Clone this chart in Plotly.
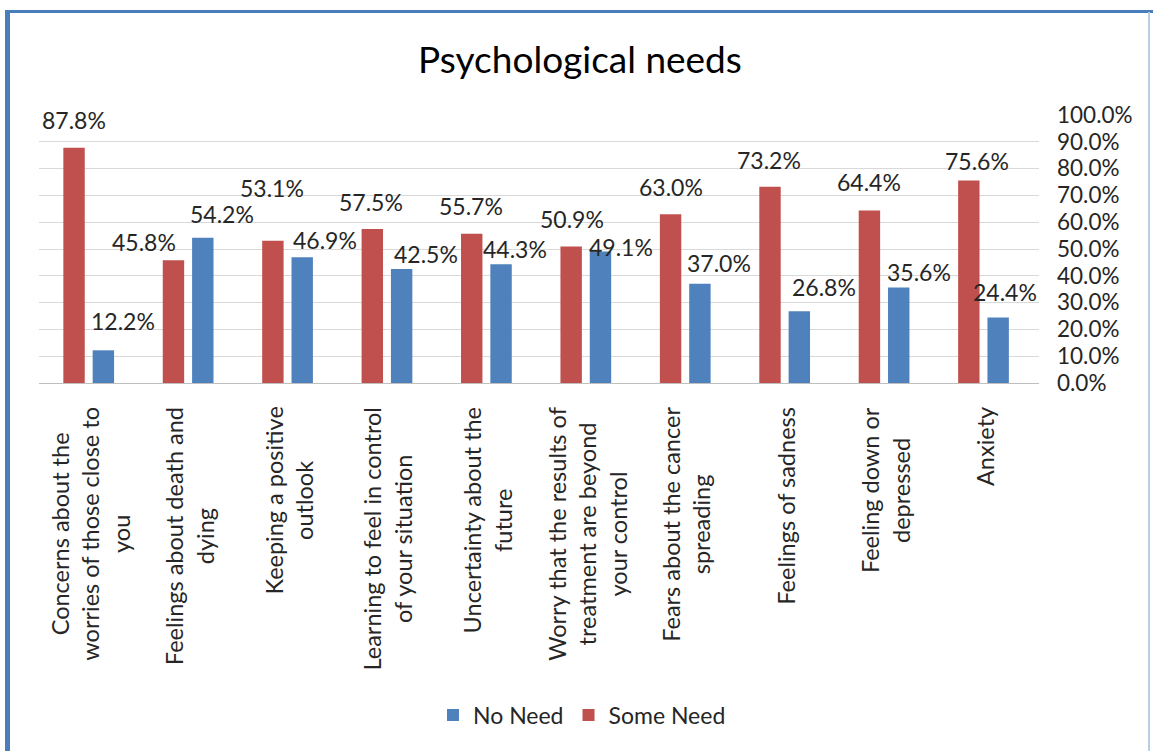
import plotly.graph_objects as go

# ---- data -------------------------------------------------------------
categories = [
    "Concerns about the<br>worries of those close to<br>you",
    "Feelings about death and<br>dying",
    "Keeping a positive<br>outlook",
    "Learning to feel in control<br>of your situation",
    "Uncertainty about the<br>future",
    "Worry that the results of<br>treatment are beyond<br>your control",
    "Fears about the cancer<br>spreading",
    "Feelings of sadness",
    "Feeling down or<br>depressed",
    "Anxiety",
]
some_need = [87.8, 45.8, 53.1, 57.5, 55.7, 50.9, 63.0, 73.2, 64.4, 75.6]
no_need = [12.2, 54.2, 46.9, 42.5, 44.3, 49.1, 37.0, 26.8, 35.6, 24.4]
y_ticks = [0, 10, 20, 30, 40, 50, 60, 70, 80, 90, 100]

# ---- styling ----------------------------------------------------------
RED = "#C0504D"
BLUE = "#4F81BD"
TEXT = "#262626"
FONT = "Lato"

W, H = 1153, 751
ML, MR, MT, MB = 39, 114, 115, 368
PW, PH = W - ML - MR, H - MT - MB

# data-label placement (pixels) relative to the top of each bar
red_bar_off, blue_bar_off = -14.5, 15
red_lbl_dx = [0, -30, -1.5, -1, -1, 0.5, 0.5, -1.5, -1, 8]
red_lbl_dy = [28, 18, 53, 27, 28, 28, 27, 27, 28, 19]
blue_lbl_dx = [19, 19, 22.5, 24, 13.5, 20.5, 18.5, 24, 19.5, 6.5]
blue_lbl_dy = [29, 24, 17, 15, 15, 4, 21, 24, 16, 26]


def px_x(p):
    return (p - ML) / PW


def px_y(p):
    return (H - MB - p) / PH


fig = go.Figure()
fig.add_trace(go.Bar(name="Some Need", x=categories, y=some_need,
                     marker=dict(color=RED, line=dict(width=0))))
fig.add_trace(go.Bar(name="No Need", x=categories, y=no_need,
                     marker=dict(color=BLUE, line=dict(width=0))))

annotations = []
for i, cat in enumerate(categories):
    annotations.append(dict(
        x=cat, y=some_need[i], xref="x", yref="y",
        text=f"{some_need[i]:.1f}%", showarrow=False,
        xanchor="center", yanchor="middle",
        xshift=red_bar_off + red_lbl_dx[i], yshift=red_lbl_dy[i],
        font=dict(family=FONT, size=23, color=TEXT)))
    annotations.append(dict(
        x=cat, y=no_need[i], xref="x", yref="y",
        text=f"{no_need[i]:.1f}%", showarrow=False,
        xanchor="center", yanchor="middle",
        xshift=blue_bar_off + blue_lbl_dx[i], yshift=blue_lbl_dy[i],
        font=dict(family=FONT, size=23, color=TEXT)))
    # rotated category label under the axis
    annotations.append(dict(
        x=cat, y=0, xref="x", yref="paper",
        text=cat, showarrow=False, textangle=-90, align="center",
        xanchor="center", yanchor="top", xshift=1, yshift=-22,
        font=dict(family=FONT, size=23.5, color=TEXT)))

# blue frame around the chart
border = dict(xref="paper", yref="paper", type="line", layer="above")
shapes = [
    dict(border, x0=px_x(7.5), x1=px_x(7.5), y0=px_y(11), y1=px_y(800),
         line=dict(color="#4A7EBB", width=5)),
    dict(border, x0=px_x(5), x1=px_x(1160), y0=px_y(11.5), y1=px_y(11.5),
         line=dict(color="#4A7EBB", width=3)),
    dict(border, x0=px_x(1149), x1=px_x(1149), y0=px_y(12), y1=px_y(800),
         line=dict(color="#B9CDE6", width=2)),
]

fig.update_layout(
    width=W, height=H,
    margin=dict(l=ML, r=MR, t=MT, b=MB, pad=0),
    paper_bgcolor="white", plot_bgcolor="white",
    barmode="group", bargap=0.41, bargroupgap=0.27,
    title=dict(text="Psychological needs", xref="paper", x=px_x(580),
               xanchor="center", yref="container", y=1 - 60 / H,
               yanchor="middle",
               font=dict(family=FONT, size=37, color="#000000")),
    font=dict(family=FONT, color=TEXT),
    legend=dict(orientation="h", traceorder="reversed",
                x=px_x(582), xanchor="center", y=px_y(715), yanchor="middle",
                font=dict(family=FONT, size=23, color=TEXT)),
    annotations=annotations,
    shapes=shapes,
    xaxis=dict(showticklabels=False, showgrid=False, ticks="",
               showline=True, linecolor="#BFBFBF", linewidth=1,
               fixedrange=True),
    yaxis=dict(side="right", range=[0, 100], tickvals=y_ticks,
               ticktext=[f"{v:.1f}%" for v in y_ticks], ticks="",
               ticklabelstandoff=17,
               showgrid=True, gridcolor="#D9D9D9", gridwidth=1,
               zeroline=False, showline=False,
               tickfont=dict(family=FONT, size=22.5, color=TEXT)),
)

fig.write_html("out.html")
